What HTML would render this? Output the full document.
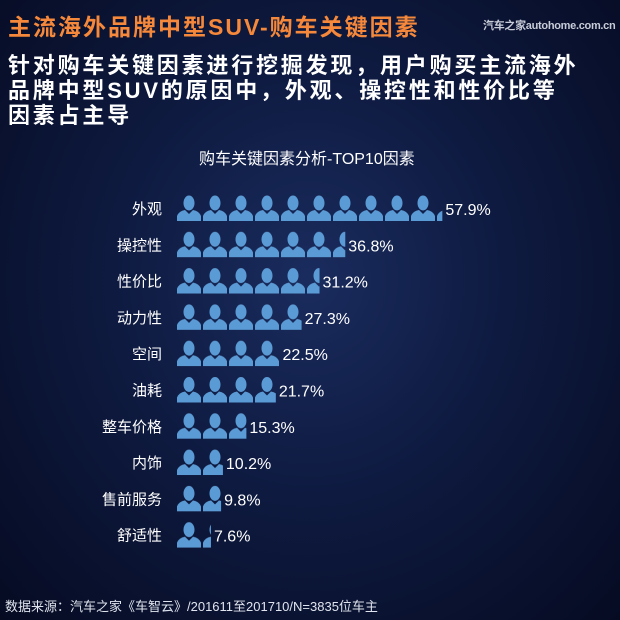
<!DOCTYPE html>
<html><head><meta charset="utf-8"><style>
html,body{margin:0;padding:0}
body{width:620px;height:620px;overflow:hidden;position:relative;font-family:"Liberation Sans","Noto Sans CJK SC",sans-serif;background:radial-gradient(ellipse at 50% 45%,#1a2c5e 0%,#0e1a40 45%,#060b22 100%);color:#fff}
.t{position:absolute;white-space:nowrap}
</style></head><body>
<div class="t" style="left:8px;top:8px;font-size:23px;font-weight:bold;color:#f5883a;letter-spacing:2px">主流海外品牌中型SUV-购车关键因素</div>
<div class="t" style="left:483px;top:17px;font-size:11px;color:#c8ccd8;font-weight:bold;letter-spacing:-0.3px">汽车之家autohome.com.cn</div>
<div class="t" style="left:8px;top:53px;font-size:22px;font-weight:bold;line-height:25px;letter-spacing:2.8px">针对购车关键因素进行挖掘发现，用户购买主流海外<br>品牌中型SUV的原因中，外观、操控性和性价比等<br>因素占主导</div>
<div class="t" style="left:199px;top:145px;font-size:16px">购车关键因素分析-TOP10因素</div>
<svg width="620" height="620" style="position:absolute;left:0;top:0">
<defs><pattern id="p" x="176" y="0" width="26" height="620" patternUnits="userSpaceOnUse">
<g fill="#5b9bd5"><ellipse cx="13" cy="8" rx="5.5" ry="7.5"/><path d="M1 26 L1 21 Q3 16 9 15 L13 19 L17 15 Q23 16 25 21 L25 26 Z"/></g>
</pattern></defs>
<g font-size="15" fill="#fff" font-family="Liberation Sans,Noto Sans CJK SC,sans-serif">
<g id="rows"></g>
</g>
</svg>
<div class="t" style="left:5px;top:596px;font-size:13px;color:#e0e4ee">数据来源：汽车之家《车智云》/201611至201710/N=3835位车主</div>
<script>
var d=[["外观",57.9],["操控性",36.8],["性价比",31.2],["动力性",27.3],["空间",22.5],["油耗",21.7],["整车价格",15.3],["内饰",10.2],["售前服务",9.8],["舒适性",7.6]];
var s="";
d.forEach(function(r,i){var y=195+i*36.3;var w=r[1]*4.6;
s+='<g transform="translate(0,'+(y)+')"><rect x="176" y="0" width="'+w+'" height="26" fill="url(#p)"/></g>';
s+='<text x="162" y="'+(y+19)+'" text-anchor="end">'+r[0]+'</text>';
s+='<text x="'+(179+w)+'" y="'+(y+20)+'" font-size="16">'+r[1].toFixed(1)+'%</text>';});
document.getElementById("rows").innerHTML=s;
</script>
</body></html>
